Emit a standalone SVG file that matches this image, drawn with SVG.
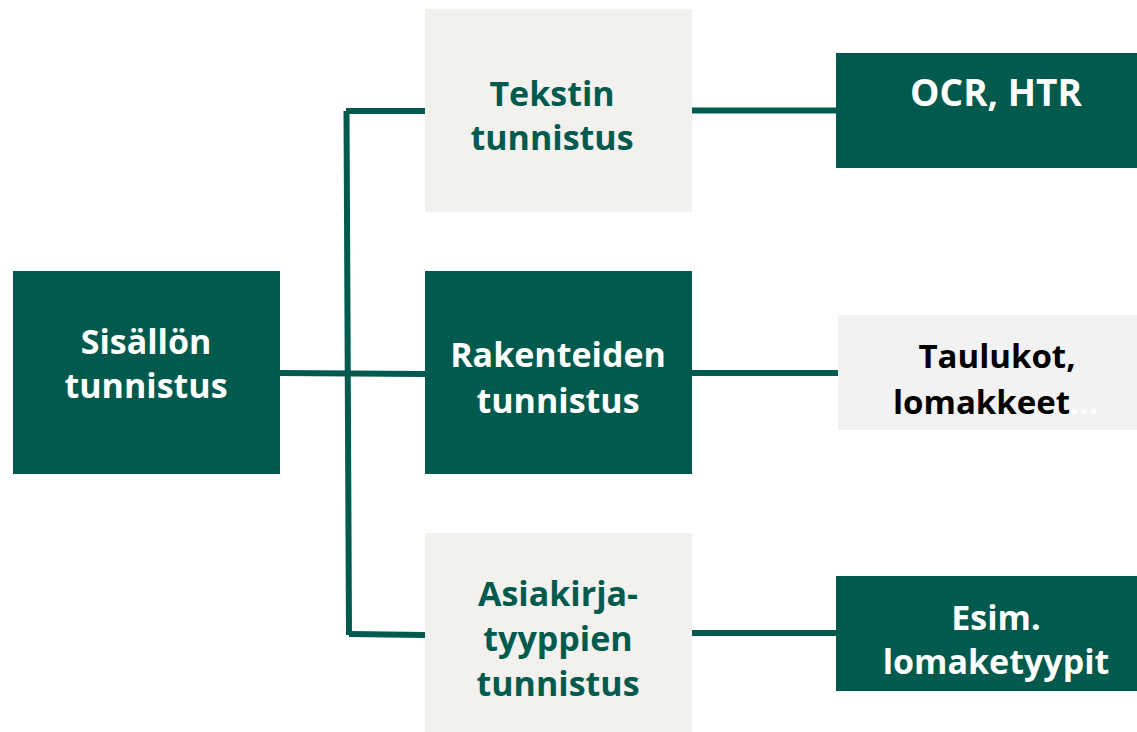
<svg xmlns="http://www.w3.org/2000/svg" width="1137" height="732" viewBox="0 0 1137 732">
<style>
.dark{fill:#005a4e}
.light{fill:#f2f1ed}
.grey{fill:#f2f2f2}
text{font-family:"Open Sans","Noto Sans","Liberation Sans",sans-serif;font-weight:bold;font-size:34px;text-anchor:middle}
.w{fill:#ffffff}
.g{fill:#005a4e}
.k{fill:#000000;font-size:33px}
.conn{stroke:#005a4e;stroke-width:6;fill:none}
</style>
<rect width="1137" height="732" fill="#ffffff"/>
<g id="connectors">
<path class="conn" d="M280,373 L425,374"/>
<path class="conn" d="M346.5,111 L349,635"/>
<path class="conn" d="M346,111 L425,111"/>
<path class="conn" d="M349,634 L425,635"/>
<path class="conn" d="M692,110.5 L836,110.5"/>
<path class="conn" d="M692,373 L838,373"/>
<path class="conn" d="M689,633 L836,633"/>
</g>
<g id="sisallon">
<rect class="dark" x="13" y="271" width="267" height="203"/>
<text class="w" x="146" y="354">Sisällön</text>
<text class="w" x="146" y="398">tunnistus</text>
</g>
<g id="tekstin">
<rect class="light" x="425" y="9" width="267" height="203"/>
<text class="g" x="552" y="106">Tekstin</text>
<text class="g" x="552" y="150">tunnistus</text>
</g>
<g id="rakenteiden">
<rect class="dark" x="425" y="271" width="267" height="203"/>
<text class="w" x="558" y="367">Rakenteiden</text>
<text class="w" x="558" y="413">tunnistus</text>
</g>
<g id="asiakirja">
<rect class="light" x="425" y="533" width="267" height="199"/>
<text class="g" x="558" y="606">Asiakirja-</text>
<text class="g" x="558" y="651">tyyppien</text>
<text class="g" x="558" y="696">tunnistus</text>
</g>
<g id="ocr">
<rect class="dark" x="836" y="53" width="301" height="115"/>
<text class="w" x="996" y="106" style="font-size:37px">OCR, HTR</text>
</g>
<g id="taulukot">
<rect class="grey" x="838" y="315" width="299" height="115"/>
<text class="k" x="997" y="368">Taulukot,</text>
<text class="k" x="893" y="414" style="text-anchor:start">lomakkeet<tspan fill="#ffffff">…</tspan></text>
</g>
<g id="esim">
<rect class="dark" x="836" y="576" width="301" height="115"/>
<text class="w" x="996" y="630">Esim.</text>
<text class="w" x="996" y="674">lomaketyypit</text>
</g>
</svg>
